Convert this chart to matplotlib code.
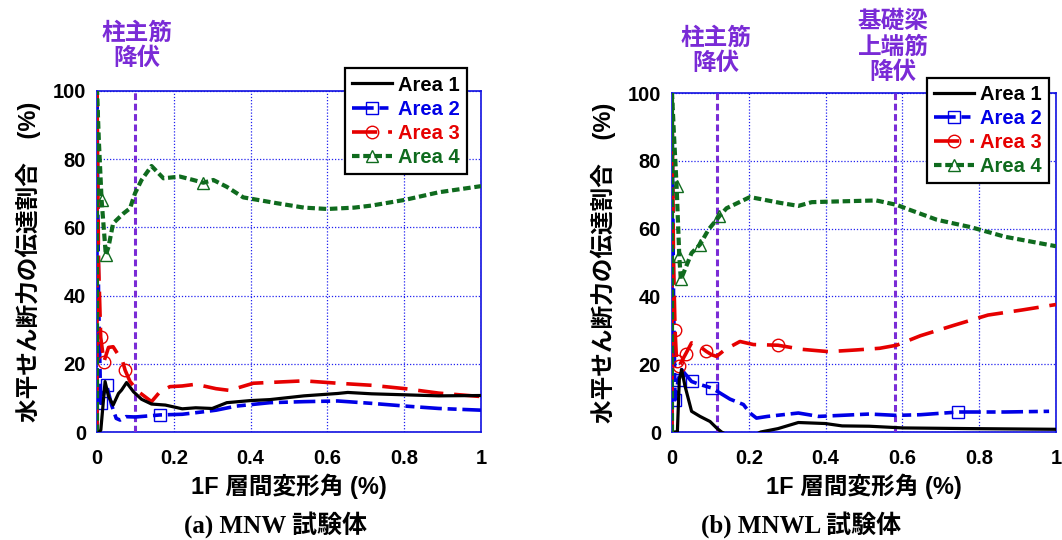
import matplotlib
matplotlib.use("Agg")
import matplotlib.pyplot as plt

# ---------------- data ----------------
# (a) MNW
a1_x_L = [0.006, 0.010, 0.021, 0.030, 0.042, 0.056, 0.064, 0.077, 0.095, 0.116, 0.142, 0.178, 0.222, 0.257, 0.300, 0.338, 0.398, 0.450, 0.539, 0.627, 0.653, 0.715, 0.803, 0.890, 1.000]
a1_y_L = [0.0, 0.6, 14.8, 10.4, 7.9, 11.3, 12.3, 14.5, 11.8, 9.6, 8.2, 7.9, 6.8, 7.1, 6.9, 8.6, 9.2, 9.5, 10.6, 11.3, 11.6, 11.2, 10.9, 10.6, 10.7]

a2_x_L = [0.0, 0.0, 0.004, 0.0096, 0.025, 0.038, 0.050, 0.060, 0.075, 0.100, 0.164, 0.222, 0.275, 0.310, 0.363, 0.450, 0.539, 0.627, 0.715, 0.803, 0.890, 1.000]
a2_y_L = [0.0, 100.0, 40.0, 8.4, 13.8, 7.9, 4.0, 3.5, 4.5, 4.4, 5.0, 5.2, 5.9, 6.4, 7.6, 8.6, 8.9, 9.1, 8.4, 7.6, 6.9, 6.4]
a2_mk_L = [3, 4, 10]

a3_x_L = [0.0, 0.0, 0.004, 0.0096, 0.018, 0.030, 0.042, 0.067, 0.073, 0.086, 0.108, 0.142, 0.164, 0.190, 0.222, 0.257, 0.310, 0.345, 0.407, 0.539, 0.627, 0.715, 0.803, 0.890, 1.000]
a3_y_L = [0.0, 100.0, 50.0, 27.8, 20.6, 24.8, 25.0, 20.6, 18.2, 14.8, 11.8, 8.9, 11.8, 13.3, 13.5, 14.0, 12.7, 12.2, 14.3, 15.0, 14.3, 13.7, 12.7, 11.4, 10.4]
a3_mk_L = [3, 4, 8]

a4_x_L = [0.0, 0.0, 0.005, 0.012, 0.023, 0.030, 0.042, 0.069, 0.086, 0.099, 0.116, 0.142, 0.173, 0.216, 0.251, 0.277, 0.303, 0.338, 0.381, 0.468, 0.539, 0.600, 0.670, 0.715, 0.803, 0.890, 1.000]
a4_y_L = [0.0, 100.0, 85.0, 68.0, 51.9, 54.3, 61.2, 64.1, 65.6, 70.0, 73.9, 78.0, 74.4, 74.9, 73.9, 73.1, 73.9, 71.9, 68.8, 67.1, 65.8, 65.4, 65.8, 66.4, 68.1, 70.3, 72.1]
a4_mk_L = [3, 4, 15]

# (b) MNWL
a1_x_R = [0.009, 0.014, 0.019, 0.025, 0.034, 0.051, 0.073, 0.099, 0.116, 0.129, 0.180, 0.231, 0.276, 0.329, 0.399, 0.443, 0.514, 0.602, 0.779, 1.000]
a1_y_R = [0.0, 0.0, 15.4, 18.4, 13.5, 6.1, 4.6, 3.1, 1.2, 0.0, -3.0, 0.0, 1.0, 2.8, 2.5, 1.8, 1.7, 1.2, 1.0, 0.8]

a2_x_R = [0.0, 0.0, 0.004, 0.008, 0.016, 0.025, 0.051, 0.073, 0.103, 0.125, 0.151, 0.186, 0.203, 0.220, 0.249, 0.329, 0.382, 0.514, 0.585, 0.647, 0.746, 0.867, 0.982]
a2_y_R = [0.0, 100.0, 40.0, 9.5, 15.4, 18.4, 14.9, 14.0, 13.0, 11.5, 9.7, 8.1, 5.6, 4.1, 4.6, 5.6, 4.6, 5.3, 4.9, 5.1, 5.9, 5.9, 6.1]
a2_mk_R = [3, 4, 6, 8, 20]

a3_x_R = [0.0, 0.0, 0.004, 0.008, 0.012, 0.019, 0.036, 0.051, 0.066, 0.089, 0.103, 0.116, 0.138, 0.177, 0.212, 0.276, 0.337, 0.408, 0.479, 0.541, 0.585, 0.647, 0.735, 0.823, 0.912, 1.000]
a3_y_R = [0.0, 100.0, 50.0, 30.0, 20.8, 19.6, 23.1, 26.3, 25.8, 23.8, 22.8, 22.3, 24.3, 26.7, 25.8, 25.6, 24.4, 23.7, 24.2, 24.7, 25.6, 28.4, 31.5, 34.5, 36.0, 37.6]
a3_mk_R = [3, 4, 5, 6, 9, 15]

a4_x_R = [0.0, 0.0, 0.005, 0.012, 0.019, 0.023, 0.030, 0.051, 0.073, 0.095, 0.123, 0.142, 0.168, 0.203, 0.231, 0.281, 0.329, 0.364, 0.426, 0.532, 0.585, 0.620, 0.690, 0.779, 0.867, 1.000]
a4_y_R = [0.0, 100.0, 88.0, 72.5, 51.8, 45.0, 46.9, 52.8, 55.3, 59.7, 63.6, 66.0, 67.4, 69.3, 68.7, 67.6, 66.7, 67.8, 68.0, 68.3, 67.0, 65.5, 62.6, 60.4, 57.6, 54.8]
a4_mk_R = [3, 4, 5, 8, 10]

yield_L = [0.1]
yield_R = [0.116, 0.582]
yield_text_L = ["柱主筋\n降伏"]
yield_text_R = ["柱主筋\n降伏", "基礎梁\n上端筋\n降伏"]

x_ticks = [0, 0.2, 0.4, 0.6, 0.8, 1.0]
x_ticklabels = ["0", "0.2", "0.4", "0.6", "0.8", "1"]
y_ticks = [0, 20, 40, 60, 80, 100]
labels = ["Area 1", "Area 2", "Area 3", "Area 4"]
ylabel = "水平せん断力の伝達割合　(%)"
xlabel = "1F 層間変形角 (%)"
captions = ["(a) MNW 試験体", "(b) MNWL 試験体"]

# ---------------- style ----------------
SANS = ["Liberation Sans", "Noto Sans CJK JP", "DejaVu Sans"]
SERIF = ["Liberation Serif", "Noto Sans CJK JP", "DejaVu Sans"]
plt.rcParams["font.family"] = SANS
plt.rcParams["font.weight"] = "bold"

C1, C2, C3, C4 = "#000000", "#0000E6", "#E60000", "#0F6B1E"
PURPLE = "#7A2BD6"
FRAME = "#1010E0"

W, H = 1062, 540
fig = plt.figure(figsize=(W / 100, H / 100), dpi=100)
ax1 = fig.add_axes([97 / W, 108 / H, 384 / W, 341 / H])
ax2 = fig.add_axes([672 / W, 108 / H, 384 / W, 339 / H])


def draw(ax, d, yl, leg_anchor):
    (x1, y1), (x2, y2, m2), (x3, y3, m3), (x4, y4, m4) = d
    ax.plot(x1, y1, color=C1, lw=2.3, label=labels[0], zorder=5)
    ax.plot(x2, y2, color=C2, lw=2.6, dashes=(6, 1.6, 2.5, 1.6), marker="s",
            markevery=m2, ms=9, mfc="none", mec=C2, mew=1.0, label=labels[1], zorder=4)
    ax.plot(x3, y3, color=C3, lw=2.6, dashes=(7, 3), marker="o",
            markevery=m3, ms=9, mfc="none", mec=C3, mew=1.0, label=labels[2], zorder=4)
    ax.plot(x4, y4, color=C4, lw=3.0, dashes=(1.8, 0.9), marker="^",
            markevery=m4, ms=9, mfc="none", mec=C4, mew=1.0, label=labels[3], zorder=4)
    for xv in yl:
        ax.axvline(xv, color=PURPLE, lw=2.2, dashes=(2.2, 1.2), zorder=3)
    ax.set_xlim(0, 1)
    ax.set_ylim(0, 100)
    ax.set_xticks(x_ticks)
    ax.set_xticklabels(x_ticklabels)
    ax.set_yticks(y_ticks)
    ax.grid(True, color="#2020F0", lw=0.9, ls=(0, (1, 1.5)))
    ax.set_axisbelow(True)
    for s in ax.spines.values():
        s.set_color(FRAME)
        s.set_linewidth(1.2)
    ax.tick_params(length=0, labelsize=14.5)
    ax.tick_params(axis="x", pad=12)
    ax.tick_params(axis="y", pad=8)
    for t in ax.get_xticklabels() + ax.get_yticklabels():
        t.set_fontweight("bold")
    ax.set_xlabel(xlabel, fontsize=17, fontweight="bold", labelpad=4)
    ax.set_ylabel(ylabel, fontsize=17, fontweight="bold", labelpad=8)
    leg = ax.legend(loc="upper right", bbox_to_anchor=leg_anchor, borderaxespad=0,
                    prop={"weight": "bold", "size": 14.5},
                    labelcolor="linecolor", frameon=True, fancybox=False,
                    edgecolor="black", framealpha=1, handlelength=2.0,
                    handletextpad=0.3, labelspacing=0.25, borderpad=0.35,
                    numpoints=1, markerscale=1.0)
    leg.get_frame().set_linewidth(1.6)
    leg.set_zorder(10)


draw(ax1, [(a1_x_L, a1_y_L), (a2_x_L, a2_y_L, a2_mk_L), (a3_x_L, a3_y_L, a3_mk_L),
           (a4_x_L, a4_y_L, a4_mk_L)], yield_L, (0.964, 1.066))
draw(ax2, [(a1_x_R, a1_y_R), (a2_x_R, a2_y_R, a2_mk_R), (a3_x_R, a3_y_R, a3_mk_R),
           (a4_x_R, a4_y_R, a4_mk_R)], yield_R, (0.982, 1.044))

# yield annotations (figure pixel positions)
ann_kw = dict(ha="center", va="bottom", color=PURPLE, fontsize=17,
              fontweight="bold", linespacing=1.08, family=["Noto Sans CJK JP"])
fig.text(137 / W, 1 - 70 / H, yield_text_L[0], **ann_kw)
fig.text(716 / W, 1 - 75 / H, yield_text_R[0], **ann_kw)
fig.text(893 / W, 1 - 84 / H, yield_text_R[1], **ann_kw)

# captions
fig.text(275 / W, 1 - 525 / H, captions[0], ha="center", va="center",
         fontsize=18, fontweight="bold", family=SERIF)
fig.text(801 / W, 1 - 525 / H, captions[1], ha="center", va="center",
         fontsize=18, fontweight="bold", family=SERIF)

fig.savefig("out.png", dpi=100)
